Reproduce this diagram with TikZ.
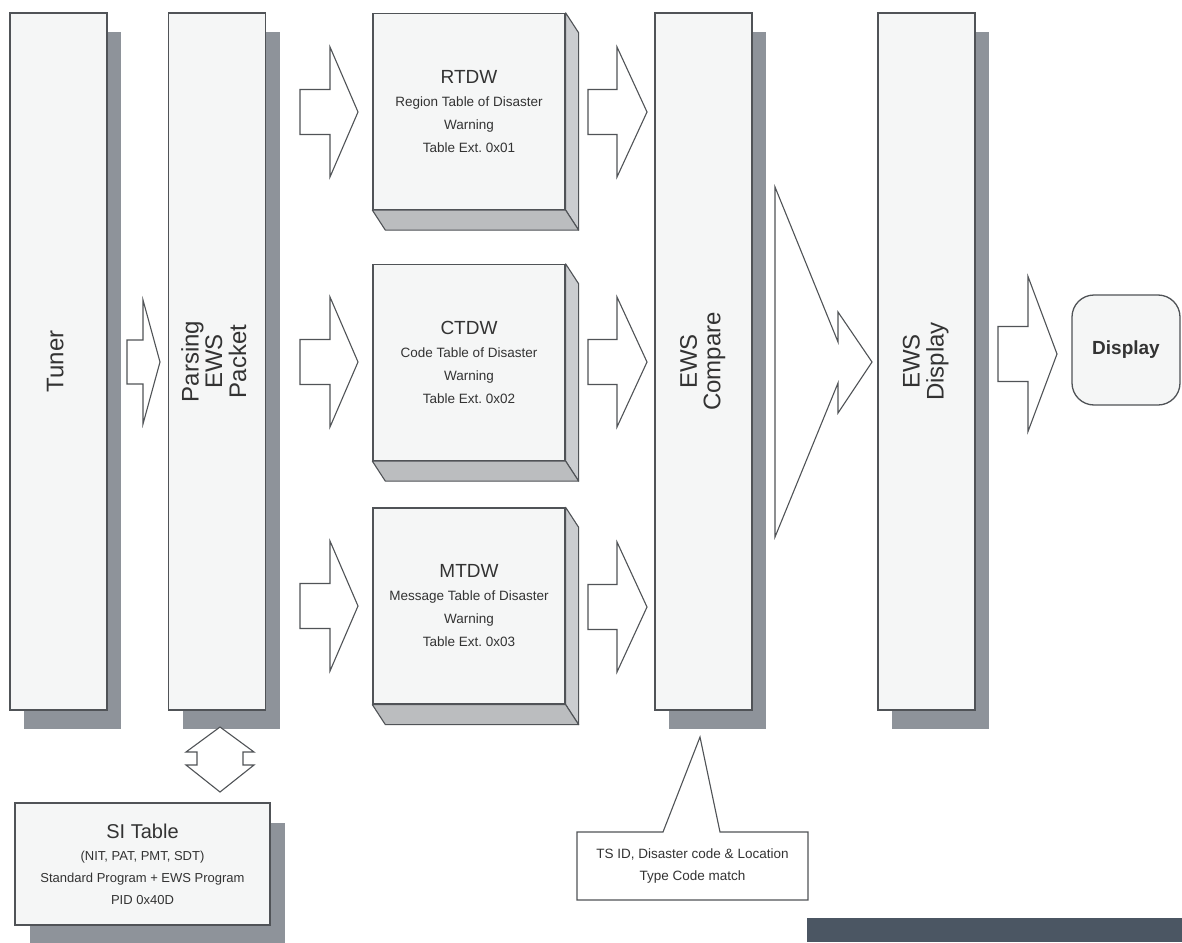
\documentclass[tikz,border=0pt]{standalone}
\usepackage{fontspec}
\setmainfont{Liberation Sans}
\usetikzlibrary{shadows,calc}
\frenchspacing

\definecolor{edge}{HTML}{505357}
\definecolor{front}{HTML}{F5F6F6}
\definecolor{shade}{HTML}{8E939A}
\definecolor{side}{HTML}{CBCDD0}
\definecolor{ink}{HTML}{333333}
\definecolor{bar}{HTML}{4B5663}

% text turned upright in the tall boxes
\newcommand{\vlabel}[1]{\rotatebox{90}{\begin{tabular}{@{}c@{}}#1\end{tabular}}}
\newcommand{\titlefont}{\fontsize{19}{24}\selectfont}
% block arrow: name, tail x, centre y, shaft length, head length, shaft half, head half
\newcommand{\fatarrow}[7]{%
  \coordinate (#1) at (#2,#3);
  \draw[arrowshape] (#2,#3-#6) -- ++(#4,0) -- (#2+#4,#3-#7) -- (#2+#4+#5,#3)
    -- (#2+#4,#3+#7) -- (#2+#4,#3+#6) -- (#2,#3+#6) -- cycle;}
% bevelled right and bottom faces of a table box
\newcommand{\slab}[1]{%
  \draw[sideface] (#1.north east) -- ++(13,20) -- ($(#1.south east)+(13,20)$) -- (#1.south east) -- cycle;
  \draw[sideface, fill=side!92!black] (#1.south west) -- (#1.south east) -- ++(13,20) -- ($(#1.south west)+(13,20)$) -- cycle;}

\tikzset{
  tallbox/.style={draw=edge, fill=front, line width=1.3pt, inner sep=0pt,
    minimum width=97pt, minimum height=697pt, text=ink,
    font=\fontsize{24}{22}\selectfont,
    drop shadow={shadow xshift=14pt, shadow yshift=-19pt, fill=shade, opacity=1}},
  tablebox/.style={draw=edge, fill=front, line width=1.3pt, inner sep=0pt,
    minimum width=192pt, minimum height=196pt, text=ink, align=center,
    font=\fontsize{13.5}{23}\selectfont},
  sideface/.style={draw=edge, fill=side, line width=1.1pt, line join=round},
  arrowshape/.style={draw=edge, fill=white, line width=1.1pt, line join=miter},
}

\begin{document}
\begin{tikzpicture}[x=1pt, y=-1pt]
    \useasboundingbox (0,0) rectangle (1182,942);
    \fill[white] (0,0) rectangle (1182,942);

    %tall boxes
    \node[tallbox] (tuner) at (58.5,361.5) {\vlabel{Tuner}};
    \node[tallbox] (parse) at (217,361.5) {\vlabel{Parsing\\EWS\\Packet}};
    \node[tallbox] (comp) at (703.5,361.5) {\vlabel{EWS\\Compare}};
    \node[tallbox] (show) at (926.5,361.5) {\vlabel{EWS\\Display}};

    %tables of disaster warning
    \node[tablebox] (rtdw) at (469,111.5) {{\titlefont RTDW}\\Region Table of Disaster\\Warning\\Table Ext. 0x01};
    \slab{rtdw}
    \node[tablebox] (ctdw) at (469,362.5) {{\titlefont CTDW}\\Code Table of Disaster\\Warning\\Table Ext. 0x02};
    \slab{ctdw}
    \node[tablebox] (mtdw) at (469,606) {{\titlefont MTDW}\\Message Table of Disaster\\Warning\\Table Ext. 0x03};
    \slab{mtdw}

    %SI table
    \node[draw=edge, fill=front, line width=1.3pt, minimum width=255pt, minimum height=122pt,
      align=center, text=ink, font=\fontsize{13}{22}\selectfont,
      drop shadow={shadow xshift=15pt, shadow yshift=-20pt, fill=shade, opacity=1}]
      (si) at (142.5,864) {{\fontsize{20}{24}\selectfont SI Table}\\(NIT, PAT, PMT, SDT)\\Standard Program + EWS Program\\PID 0x40D};

    %display
    \node[draw=edge, fill=front, line width=1.3pt, rounded corners=22pt, minimum width=108pt,
      minimum height=110pt, text=ink, font=\fontsize{19}{24}\selectfont\bfseries] (disp) at (1126,350) {Display};

    %block arrows
    \fatarrow{a0}{127}{362}{16}{17}{22}{62}
    \fatarrow{a1}{300}{112}{30}{28}{22.5}{65}
    \fatarrow{a2}{300}{362}{30}{28}{22.5}{65}
    \fatarrow{a3}{300}{606}{30}{28}{22.5}{65}
    \fatarrow{b1}{588}{112}{29}{30}{22.5}{65}
    \fatarrow{b2}{588}{362}{29}{30}{22.5}{65}
    \fatarrow{b3}{588}{607}{29}{30}{22.5}{65}
    \fatarrow{c1}{998}{354}{30}{29}{27.5}{77.5}
    \draw[arrowshape] (775,187) -- (838,342) -- (838,312) -- (872,362) -- (838,413)
      -- (838,383) -- (775,537) -- cycle; %compare to display
    \draw[arrowshape] (220,727) -- (254,752) -- (243,752) -- (243,765) -- (254,765) -- (220,792)
      -- (186,765) -- (197,765) -- (197,752) -- (186,752) -- cycle; %parse to si

    %match note
    \draw[draw=edge, fill=white, line width=1.1pt] (577,832) -- (663,832) -- (700,737) -- (720,832)
      -- (808,832) -- (808,900) -- (577,900) -- cycle;
    \node[align=center, text=ink, font=\fontsize{13.5}{22}\selectfont] (note) at (692.5,866)
      {TS ID, Disaster code \& Location\\Type Code match};

    \fill[bar] (807,918) rectangle (1182,942);
\end{tikzpicture}
\end{document}
